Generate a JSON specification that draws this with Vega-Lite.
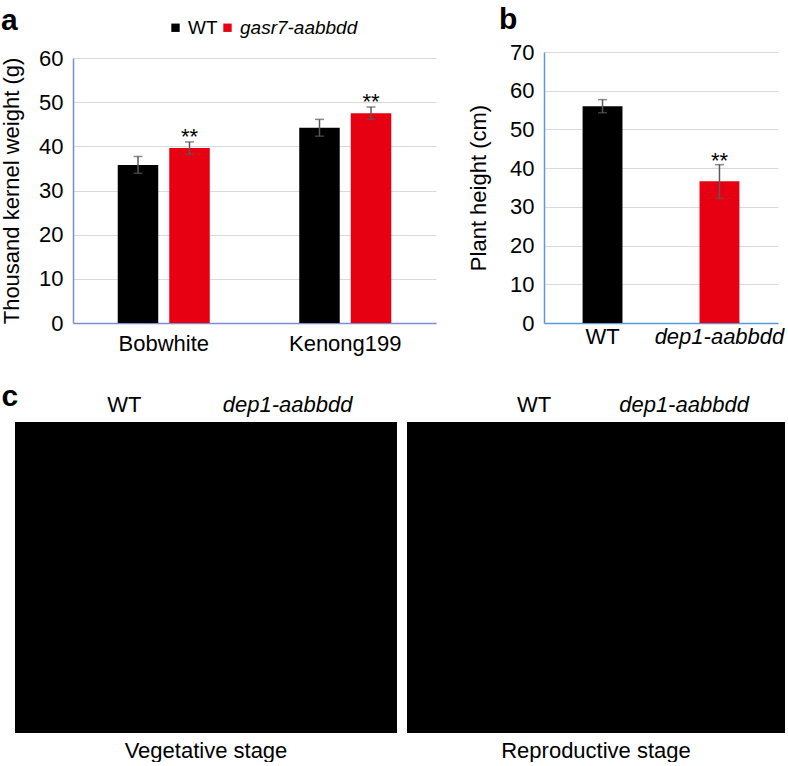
{
  "$schema": "https://vega.github.io/schema/vega-lite/v6.json",
  "background": "white",
  "padding": {"left": 0, "top": 5, "right": 0, "bottom": 0},
  "autosize": {"type": "pad"},
  "config": {
    "font": "Liberation Sans",
    "view": {"stroke": null},
    "axis": {
      "labelFont": "Liberation Sans", "titleFont": "Liberation Sans",
      "labelFontSize": 22, "titleFontSize": 22, "labelColor": "black", "titleColor": "black",
      "titleFontWeight": "normal", "ticks": false, "grid": false
    },
    "title": {"font": "Liberation Sans", "fontSize": 30, "fontWeight": "bold", "color": "black", "anchor": "start", "frame": "group"}
  },
  "spacing": 27,
  "resolve": {"scale": {"x": "independent", "y": "independent", "color": "independent", "xOffset": "independent"}},
  "vconcat": [
    {
      "spacing": 31,
      "resolve": {"scale": {"x": "independent", "y": "independent", "color": "independent", "xOffset": "independent"}, "legend": {"color": "independent"}},
      "hconcat": [
        {
          "title": {"text": "a", "dx": -14, "offset": -18},
          "width": 421, "height": 271,
          "data": {"values": [
            {"cultivar": "Bobwhite", "genotype": "WT", "weight": 35.8, "sd": 1.9, "sig": ""},
            {"cultivar": "Bobwhite", "genotype": "gasr7-aabbdd", "weight": 39.6, "sd": 1.4, "sig": "**"},
            {"cultivar": "Kenong199", "genotype": "WT", "weight": 44.2, "sd": 1.9, "sig": ""},
            {"cultivar": "Kenong199", "genotype": "gasr7-aabbdd", "weight": 47.5, "sd": 1.4, "sig": "**"}
          ]},
          "encoding": {
            "x": {"field": "cultivar", "type": "nominal", "sort": ["Bobwhite", "Kenong199"],
              "scale": {"paddingInner": 0.493, "paddingOuter": 0.2465, "range": [58, 421]},
              "axis": {"title": null, "labelAngle": 0, "labelPadding": 27, "labelBaseline": "alphabetic", "domainColor": "#7b8fd0", "domainWidth": 1.5}},
            "xOffset": {"field": "genotype", "type": "nominal", "sort": ["WT", "gasr7-aabbdd"], "scale": {"paddingInner": 0.214, "paddingOuter": 0}},
            "y": {"field": "weight", "type": "quantitative", "scale": {"domain": [0, 60], "range": [271, 6]},
              "axis": {"title": "Thousand kernel weight (g)", "values": [0, 10, 20, 30, 40, 50, 60], "grid": true, "gridColor": "#d9d9d9", "gridWidth": 1.2,
                "offset": -58, "domainColor": "#7b8fd0", "domainWidth": 1.5, "labelPadding": 10, "titlePadding": 15}}
          },
          "layer": [
            {"mark": {"type": "bar"},
             "encoding": {"color": {"field": "genotype", "type": "nominal",
               "scale": {"domain": ["WT", "gasr7-aabbdd"], "range": ["#000000", "#e60012"]},
               "legend": {"title": null, "orient": "none", "legendX": 151, "legendY": -34, "direction": "horizontal",
                 "symbolType": "square", "symbolSize": 70, "symbolStrokeWidth": 0, "labelFontSize": 19, "labelFont": "Liberation Sans", "labelColor": "black",
                 "columnPadding": 0, "labelOffset": 3,
                 "labelFontStyle": {"expr": "datum.label == 'WT' ? 'normal' : 'italic'"}}}}},
            {"mark": {"type": "errorbar", "ticks": true, "size": 9, "thickness": 1.5, "color": "#595959"},
             "encoding": {"yError": {"field": "sd"}}},
            {"mark": {"type": "text", "fontSize": 22, "baseline": "alphabetic", "dy": -4, "color": "black"},
             "encoding": {"text": {"field": "sig"}}}
          ]
        },
        {
          "title": {"text": "b", "dx": -45, "offset": 6},
          "width": 234, "height": 271,
          "data": {"values": [
            {"genotype": "WT", "height": 56.0, "sd": 1.7, "sig": ""},
            {"genotype": "dep1-aabbdd", "height": 36.6, "sd": 4.3, "sig": "**"}
          ]},
          "encoding": {
            "x": {"field": "genotype", "type": "nominal", "sort": ["WT", "dep1-aabbdd"],
              "scale": {"paddingInner": 0.659, "paddingOuter": 0.33},
              "axis": {"title": null, "labelAngle": 0, "labelPadding": 20, "labelBaseline": "alphabetic", "domainColor": "#5b9bd5", "domainWidth": 1.5,
                "labelFontStyle": {"condition": {"test": "datum.value == 'WT'", "value": "normal"}, "value": "italic"}}},
            "y": {"field": "height", "type": "quantitative", "scale": {"domain": [0, 70]},
              "axis": {"title": "Plant height (cm)", "values": [0, 10, 20, 30, 40, 50, 60, 70], "grid": true, "gridColor": "#d9d9d9", "gridWidth": 1.2,
                "domainColor": "#5b9bd5", "domainWidth": 1.5, "labelPadding": 10, "titlePadding": 19}}
          },
          "layer": [
            {"mark": {"type": "bar"},
             "encoding": {"color": {"field": "genotype", "type": "nominal",
               "scale": {"domain": ["WT", "dep1-aabbdd"], "range": ["#000000", "#e60012"]}, "legend": null}}},
            {"mark": {"type": "errorbar", "ticks": true, "size": 9, "thickness": 1.5, "color": "#595959"},
             "encoding": {"yError": {"field": "sd"}}},
            {"mark": {"type": "text", "fontSize": 22, "baseline": "alphabetic", "dy": -13, "color": "black"},
             "encoding": {"text": {"field": "sig"}}}
          ]
        }
      ]
    },
    {
      "spacing": 10,
      "resolve": {"scale": {"x": "independent", "y": "independent"}},
      "hconcat": [
        {
          "title": {"text": "Vegetative stage", "orient": "bottom", "anchor": "middle", "fontSize": 22, "fontWeight": "normal", "offset": 8},
          "width": 382, "height": 311,
          "view": {"fill": "black", "stroke": null},
          "data": {"values": [
            {"stage": "Vegetative stage", "genotype": "WT"},
            {"stage": "Vegetative stage", "genotype": "dep1-aabbdd"}
          ]},
          "mark": {"type": "rect", "color": "black"},
          "encoding": {
            "x": {"field": "genotype", "type": "nominal", "sort": ["WT", "dep1-aabbdd"],
              "scale": {"paddingInner": 0, "paddingOuter": 0.17, "align": 0.5},
              "axis": {"orient": "top", "domain": false, "labelAngle": 0, "labelPadding": 11, "labelBaseline": "alphabetic",
                "labelFontStyle": {"condition": {"test": "datum.value == 'WT'", "value": "normal"}, "value": "italic"},
                "title": "c", "titleFontSize": 30, "titleFontWeight": "bold", "titleX": -14, "titleY": -17, "titleAlign": "left", "titleAngle": 0, "titleBaseline": "alphabetic"}}
          }
        },
        {
          "title": {"text": "Reproductive stage", "orient": "bottom", "anchor": "middle", "fontSize": 22, "fontWeight": "normal", "offset": 8},
          "width": 378, "height": 311,
          "view": {"fill": "black", "stroke": null},
          "data": {"values": [
            {"stage": "Reproductive stage", "genotype": "WT"},
            {"stage": "Reproductive stage", "genotype": "dep1-aabbdd"}
          ]},
          "mark": {"type": "rect", "color": "black"},
          "encoding": {
            "x": {"field": "genotype", "type": "nominal", "sort": ["WT", "dep1-aabbdd"],
              "scale": {"paddingInner": 0, "paddingOuter": 0.26, "align": 0.667},
              "axis": {"orient": "top", "domain": false, "labelAngle": 0, "labelPadding": 11, "labelBaseline": "alphabetic", "title": null,
                "labelFontStyle": {"condition": {"test": "datum.value == 'WT'", "value": "normal"}, "value": "italic"}}}
          }
        }
      ]
    }
  ]
}
